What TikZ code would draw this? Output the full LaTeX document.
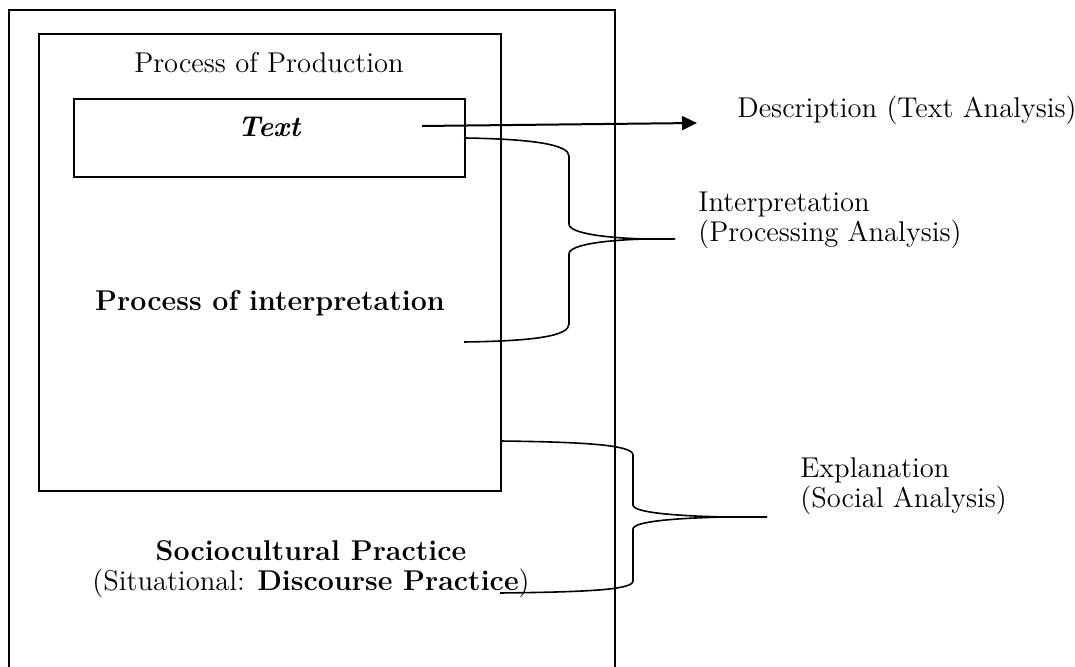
\documentclass[tikz,border=0pt]{standalone}
\usetikzlibrary{arrows.meta}
\begin{document}
\begin{tikzpicture}[x=0.5pt,y=-0.5pt,
  boxline/.style={draw=black,line width=0.8pt},
  lbl/.style={inner sep=0pt,font=\fontsize{14.3}{15}\selectfont},
  bracestyle/.style={draw=black,line width=0.8pt},
  arrowstyle/.style={draw=black,line width=1pt,-{Triangle[length=7.5pt,width=7pt]}}]
\useasboundingbox (0,0) rectangle (1075,667);
% outer frame (open at the bottom)
\coordinate (obl) at (9,667);
\coordinate (otl) at (9,10);
\coordinate (otr) at (615,10);
\coordinate (obr) at (615,667);
\draw[boxline] (obl) -- (otl) -- (otr) -- (obr);
% inner box and text box
\node[boxline,anchor=north west,minimum width=231pt,minimum height=228.5pt,inner sep=0pt] (inner) at (38,33) {};
\node[boxline,anchor=north west,minimum width=195.5pt,minimum height=39pt,inner sep=0pt] (textbox) at (73,98) {};
% labels
\node[lbl] (prod) at (269,63) {Process of Production};
\node[lbl,font=\fontsize{14.3}{15}\selectfont\bfseries\itshape] (text) at (269,127) {Text};
\node[lbl,font=\fontsize{14.3}{15}\selectfont\bfseries] (interp) at (270,303) {Process of interpretation};
\node[lbl,align=center] (socio) at (311,569) {\textbf{Sociocultural Practice}\\(Situational: \textbf{Discourse Practice})};
\node[lbl,anchor=west] (desc) at (737,110) {Description (Text Analysis)};
\node[lbl,anchor=west,align=left] (interpl) at (698,220) {Interpretation\\(Processing Analysis)};
\node[lbl,anchor=west,align=left] (expl) at (800,486) {Explanation\\(Social Analysis)};
% arrow
\coordinate (as) at (422,126);
\coordinate (ae) at (697,123);
\draw[arrowstyle] (as) -- (ae);
% brace 1
\coordinate (b1s) at (464,138);
\coordinate (b1e) at (464,342);
\coordinate (b1t) at (675,239);
\draw[bracestyle] (b1s) .. controls (535,139) and (569,145) .. (569,156)
  -- (569,224) .. controls (569,234) and (610,238) .. (645,239) -- (b1t)
  (645,239) .. controls (610,240) and (569,244) .. (569,254)
  -- (569,324) .. controls (569,336) and (535,341) .. (b1e);
% brace 2
\coordinate (b2s) at (500,441);
\coordinate (b2e) at (500,593);
\coordinate (b2t) at (767,517);
\draw[bracestyle] (b2s) .. controls (585,442) and (633,445) .. (633,455)
  -- (633,505) .. controls (633,513) and (680,516) .. (725,517) -- (b2t)
  (725,517) .. controls (680,518) and (633,521) .. (633,529)
  -- (633,581) .. controls (633,590) and (585,592) .. (b2e);
\end{tikzpicture}
\end{document}
